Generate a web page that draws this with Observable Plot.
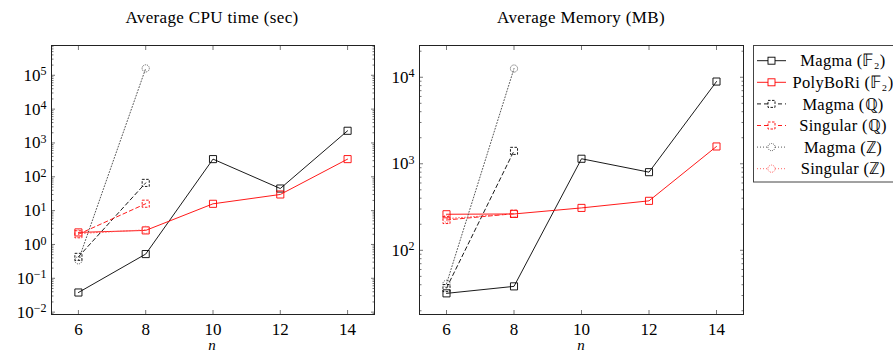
<!DOCTYPE html>
<html><head><meta charset="utf-8">
<script src="https://cdn.jsdelivr.net/npm/d3@7"></script>
<script src="https://cdn.jsdelivr.net/npm/@observablehq/plot@0.6"></script>
<style>
body{margin:0;background:#fff;}
#wrap{position:relative;width:893px;height:352px;overflow:hidden;font-family:"Liberation Serif",serif;color:#000;}
.title{position:absolute;top:8px;font-size:17px;letter-spacing:0.35px;white-space:nowrap;transform:translateX(-50%);font-family:"Liberation Serif",serif;}
.xl{position:absolute;top:339px;font-size:15px;font-style:italic;transform:translateX(-50%);font-family:"Liberation Serif",serif;line-height:13px;}
.panel{position:absolute;top:0;}
#legend{position:absolute;left:0;top:0;}
svg text.tk{font-family:"Liberation Serif",serif !important;font-size:17px !important;}
svg text.tk tspan{font-size:12px !important;}
</style></head><body>
<div id="wrap">
  <div class="title" style="left:212px">Average CPU time (sec)</div>
  <div class="title" style="left:581px">Average Memory (MB)</div>
  <div class="panel" id="left" style="left:0px"></div>
  <div class="panel" id="right" style="left:380px"></div>
  <div class="xl" style="left:212px">n</div>
  <div class="xl" style="left:581px">n</div>
  <svg id="legend" width="893" height="352" style="pointer-events:none"></svg>
</div>
<script>
const n = [6, 8, 10, 12, 14];
const seriesNames = ["Magma (𝔽₂)", "PolyBoRi (𝔽₂)", "Magma (ℚ)", "Singular (ℚ)", "Magma (ℤ)", "Singular (ℤ)"];
const cpuMagmaF2 = [0.038, 0.52, 333, 45, 2290];
const cpuPolyBoRiF2 = [2.27, 2.6, 15.9, 30, 333];
const cpuMagmaQ = [0.43, 66];
const cpuSingularQ = [2.0, 16];
const cpuMagmaZ = [0.34, 160000];
const cpuSingularZ = [2.1, 2.7];
const memMagmaF2 = [31.8, 38.3, 1143, 800, 8920];
const memPolyBoRiF2 = [261, 263, 309, 373, 1585];
const memMagmaQ = [36.6, 1410];
const memSingularQ = [224, 265];
const memMagmaZ = [41, 12600];
const memSingularZ = [232, 265];
const cpuTicks = [1e-2, 1e-1, 1e0, 1e1, 1e2, 1e3, 1e4, 1e5];
const memTicks = [1e2, 1e3, 1e4];
const xTicks = [6, 8, 10, 12, 14];

const styles = [
  {color: "#000", dash: null, symbol: "square", mdash: null},
  {color: "#f00", dash: null, symbol: "square", mdash: null},
  {color: "#000", dash: "4,3", symbol: "square", mdash: "2.5,1.5"},
  {color: "#f00", dash: "4,3", symbol: "square", mdash: "2.5,1.5"},
  {color: "#444", dash: "1,2", symbol: "circle", mdash: "1,1"},
  {color: "#f55", dash: "1,2", symbol: "circle", mdash: "1,1"}
];

const fmtPow = d => "10^" + Math.round(Math.log10(d));

function minors(domain) {
  const out = [];
  const lo = Math.floor(Math.log10(domain[0])), hi = Math.ceil(Math.log10(domain[1]));
  for (let e = lo; e <= hi; e++) for (let k = 2; k <= 9; k++) {
    const v = k * Math.pow(10, e);
    if (v > domain[0] && v < domain[1]) out.push(v);
  }
  return out;
}

function panel(el, series, yDomain, majors, width, mL, mR) {
  const marks = [];
  const tickStroke = "#777";
  const minor = minors(yDomain);
  marks.push(Plot.axisX(xTicks, {anchor: "bottom", tickSize: 0, tickPadding: 8, label: null}));
  marks.push(Plot.axisX(xTicks, {anchor: "bottom", tickSize: -4, fill: "none", stroke: tickStroke, label: null}));
  marks.push(Plot.axisX(xTicks, {anchor: "top", tickSize: -4, fill: "none", stroke: tickStroke, label: null}));
  marks.push(Plot.axisY(majors, {anchor: "left", tickSize: 0, tickPadding: 5, tickFormat: fmtPow, label: null}));
  for (const a of ["left", "right"]) {
    marks.push(Plot.axisY(majors, {anchor: a, tickSize: -4, fill: "none", stroke: tickStroke, label: null}));
    marks.push(Plot.axisY(minor, {anchor: a, tickSize: -2.5, fill: "none", stroke: tickStroke, label: null}));
  }
  series.forEach((vals, i) => {
    const s = styles[i];
    const data = vals.map((v, j) => ({n: n[j], v}));
    marks.push(Plot.line(data, {x: "n", y: "v", stroke: s.color, strokeWidth: 0.9, strokeDasharray: s.dash}));
    marks.push(Plot.dot(data, {x: "n", y: "v", stroke: s.color, fill: "none", strokeWidth: 0.9,
      symbol: s.symbol, r: s.symbol === "square" ? 4 : 3.6, strokeDasharray: s.mdash}));
  });
  marks.push(Plot.frame({stroke: "#222", strokeWidth: 1}));
  const svg = Plot.plot({
    width, height: 352,
    marginLeft: mL, marginRight: mR, marginTop: 45, marginBottom: 38,
    style: {fontFamily: "'Liberation Serif', serif", fontSize: "17px", color: "#000", background: "transparent", overflow: "visible"},
    x: {domain: [5.2, 14.8]},
    y: {type: "log", domain: yDomain},
    marks
  });
  d3.select(svg).selectAll("text").each(function () {
    const t = d3.select(this);
    const s = t.text();
    const m = /^10\^(-?\d+)$/.exec(s);
    t.classed("tk", true);
    if (m) {
      t.text("10");
      t.append("tspan").attr("dy", "-0.45em")
        .text(m[1].replace("-", "−"));
    }
  });
  document.getElementById(el).appendChild(svg);
}

panel("left", [cpuMagmaF2, cpuPolyBoRiF2, cpuMagmaQ, cpuSingularQ, cpuMagmaZ, cpuSingularZ],
  [Math.pow(10, -2.07), Math.pow(10, 5.88)], cpuTicks, 380, 51, 6);
panel("right", [memMagmaF2, memPolyBoRiF2, memMagmaQ, memSingularQ, memMagmaZ, memSingularZ],
  [Math.pow(10, 1.258), Math.pow(10, 4.367)], memTicks, 370, 39, 7);

// legend
const lg = d3.select("#legend");
const lx0 = 753.5, ly0 = 45.5, rowH = 21.6, firstY = 60.7;
lg.append("rect").attr("x", lx0).attr("y", ly0).attr("width", 160).attr("height", 136.5)
  .attr("fill", "#fff").attr("stroke", "#444").attr("stroke-width", 1);
seriesNames.forEach((name, i) => {
  const s = styles[i];
  const y = firstY + i * rowH;
  lg.append("line").attr("x1", 757).attr("x2", 786).attr("y1", y).attr("y2", y)
    .attr("stroke", s.color).attr("stroke-width", 0.9).attr("stroke-dasharray", s.dash);
  if (s.symbol === "square") {
    lg.append("rect").attr("x", 771.5 - 3.5).attr("y", y - 3.5).attr("width", 7).attr("height", 7)
      .attr("fill", "#fff").attr("stroke", s.color).attr("stroke-width", 0.9).attr("stroke-dasharray", s.mdash);
  } else {
    lg.append("circle").attr("cx", 771.5).attr("cy", y).attr("r", 3.6)
      .attr("fill", "#fff").attr("stroke", s.color).attr("stroke-width", 0.9).attr("stroke-dasharray", s.mdash);
  }
  lg.append("text").attr("x", 843).attr("y", y).attr("dy", "0.35em").attr("text-anchor", "middle")
    .attr("font-family", "'Liberation Serif', serif").attr("font-size", 16.5).attr("letter-spacing", 0.3)
    .attr("fill", "#000").text(name);
});
</script>
</body></html>
